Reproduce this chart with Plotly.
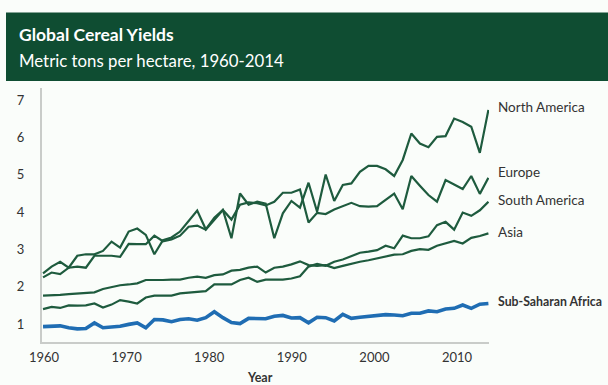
import plotly.graph_objects as go

years = list(range(1961, 2014))

north_america = [2.36, 2.54, 2.67, 2.51, 2.83, 2.87, 2.87, 2.96, 3.21, 3.05,
                 3.48, 3.56, 3.39, 2.87, 3.25, 3.32, 3.48, 3.76, 4.04, 3.54,
                 3.85, 4.06, 3.30, 4.50, 4.20, 4.28, 4.23, 3.30, 3.97, 4.30,
                 4.12, 4.79, 4.01, 5.01, 4.30, 4.73, 4.77, 5.08, 5.24, 5.24,
                 5.15, 4.97, 5.40, 6.11, 5.84, 5.74, 6.02, 6.04, 6.51, 6.42,
                 6.29, 5.59, 6.74]
europe = [2.25, 2.38, 2.34, 2.51, 2.54, 2.51, 2.83, 2.83, 2.83, 2.80,
          3.15, 3.14, 3.14, 3.37, 3.22, 3.27, 3.37, 3.61, 3.64, 3.53,
          3.79, 4.06, 3.80, 4.20, 4.26, 4.24, 4.18, 4.28, 4.52, 4.52,
          4.61, 3.72, 3.98, 3.95, 4.07, 4.17, 4.25, 4.16, 4.15, 4.16,
          4.34, 4.50, 4.08, 4.97, 4.71, 4.46, 4.28, 4.86, 4.74, 4.62,
          4.97, 4.49, 4.92]
south_america = [1.40, 1.46, 1.43, 1.50, 1.49, 1.50, 1.55, 1.44, 1.52, 1.64,
                 1.60, 1.55, 1.71, 1.76, 1.76, 1.76, 1.82, 1.84, 1.86, 1.88,
                 2.06, 2.06, 2.06, 2.18, 2.24, 2.13, 2.19, 2.19, 2.19, 2.22,
                 2.28, 2.54, 2.61, 2.56, 2.67, 2.73, 2.82, 2.91, 2.94, 2.98,
                 3.10, 3.03, 3.37, 3.30, 3.30, 3.35, 3.65, 3.74, 3.53, 3.99,
                 3.90, 4.05, 4.28]
asia = [1.76, 1.76, 1.78, 1.80, 1.81, 1.82, 1.85, 1.94, 2.00, 2.04,
        2.06, 2.09, 2.18, 2.17, 2.18, 2.19, 2.19, 2.24, 2.27, 2.24,
        2.31, 2.33, 2.43, 2.45, 2.51, 2.54, 2.38, 2.51, 2.54, 2.60,
        2.68, 2.58, 2.56, 2.58, 2.50, 2.56, 2.62, 2.67, 2.71, 2.76,
        2.83, 2.86, 2.87, 2.96, 3.01, 2.99, 3.10, 3.16, 3.23, 3.16,
        3.31, 3.36, 3.43]
sub_saharan_africa = [0.93, 0.93, 0.95, 0.90, 0.87, 0.88, 1.03, 0.90, 0.91, 0.94,
                      0.99, 1.03, 0.90, 1.12, 1.11, 1.06, 1.12, 1.14, 1.10, 1.17,
                      1.33, 1.17, 1.04, 1.01, 1.15, 1.15, 1.14, 1.21, 1.23, 1.16,
                      1.17, 1.03, 1.18, 1.17, 1.08, 1.26, 1.15, 1.18, 1.21, 1.23,
                      1.25, 1.24, 1.22, 1.29, 1.29, 1.35, 1.33, 1.40, 1.42, 1.51,
                      1.42, 1.53, 1.55]

series_names = ["North America", "Europe", "South America", "Asia", "Sub-Saharan Africa"]
series_values = [north_america, europe, south_america, asia, sub_saharan_africa]
year_ticks = [1960, 1970, 1980, 1990, 2000, 2010]
y_ticks = [1, 2, 3, 4, 5, 6, 7]

GREEN = "#1e5b3e"
BLUE = "#1f6db3"
FONT = "Lato"

# layout constants (label positions in y units)
label_y = [6.83, 5.08, 4.32, 3.47, 1.60]

fig = go.Figure()
for name, vals in zip(series_names, series_values):
    is_ssa = name == "Sub-Saharan Africa"
    fig.add_trace(go.Scatter(
        x=years, y=vals, mode="lines", name=name,
        line=dict(color=BLUE if is_ssa else GREEN, width=3.6 if is_ssa else 2.2),
        hoverinfo="skip", showlegend=False, cliponaxis=False,
    ))

# tick-only axis for the year labels
fig.add_trace(go.Scatter(x=[], y=[], xaxis="x2", yaxis="y", showlegend=False))

W, H = 608, 385
L, R, T, B = 42, 119, 88, 43
pw, ph = W - L - R, H - T - B

def px_x(p):
    return (p - L) / pw

def px_y(p):
    return (H - B - p) / ph

fig.update_layout(
    width=W, height=H,
    margin=dict(l=L, r=R, t=T, b=B, pad=0),
    paper_bgcolor="#fafdfa",
    plot_bgcolor="#fafdfa",
    font=dict(family=FONT, color="#333333", size=13),
    xaxis=dict(
        range=[1960.88, 2013.07], showgrid=False, zeroline=False,
        showticklabels=False, ticks="", showline=True,
        linecolor="#c9ccc9", linewidth=2,
    ),
    xaxis2=dict(
        overlaying="x", side="bottom", range=[1959.76, 2013.87],
        tickvals=year_ticks, ticktext=[str(v) for v in year_ticks],
        showgrid=False, zeroline=False, showline=False, ticks="",
        tickfont=dict(family=FONT, size=13, color="#333333"),
        ticklabelstandoff=6,
    ),
    yaxis=dict(
        range=[0.517, 7.33], tickvals=y_ticks, showgrid=False, zeroline=False,
        showline=True, linecolor="#c9ccc9", linewidth=2, ticks="",
        tickfont=dict(family=FONT, size=13, color="#333333"),
        ticklabelstandoff=13,
    ),
    shapes=[dict(
        type="rect", xref="paper", yref="paper",
        x0=px_x(6), x1=px_x(612), y0=px_y(81), y1=px_y(12.5),
        fillcolor="#0f4d32", line=dict(width=0), layer="above",
    )],
)

annotations = [
    dict(text="<b>Global Cereal Yields</b>", xref="paper", yref="paper",
         x=px_x(17), y=px_y(35), xanchor="left", yanchor="middle",
         showarrow=False, font=dict(family=FONT, size=17.5, color="#ffffff")),
    dict(text="Metric tons per hectare, 1960-2014", xref="paper", yref="paper",
         x=px_x(17), y=px_y(61), xanchor="left", yanchor="middle",
         showarrow=False, font=dict(family=FONT, size=16.8, color="#ffffff")),
    dict(text="<b>Year</b>", xref="paper", yref="paper",
         x=px_x(260), y=px_y(377), xanchor="center", yanchor="middle",
         showarrow=False, font=dict(family=FONT, size=12.5, color="#333333")),
]
for name, ly in zip(series_names, label_y):
    is_ssa = name == "Sub-Saharan Africa"
    txt = f"<b>{name}</b>" if is_ssa else name
    annotations.append(dict(
        text=txt, xref="paper", yref="y", x=px_x(496), y=ly,
        xanchor="left", yanchor="middle", showarrow=False,
        font=dict(family=FONT, size=12.3 if is_ssa else 13.5, color="#333333"),
    ))
fig.update_layout(annotations=annotations)

fig.write_html("out.html")
